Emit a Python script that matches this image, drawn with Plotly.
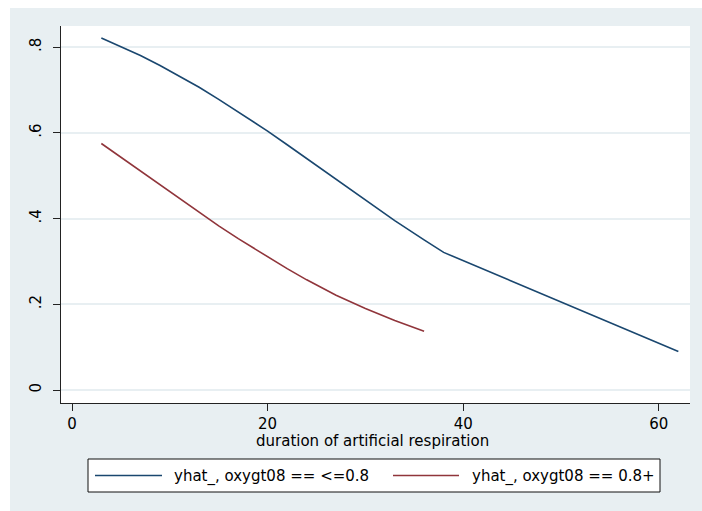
import plotly.graph_objects as go

# ---- data ----
dur_low = [3, 5, 7, 9, 11, 13, 15, 17, 20, 22, 24, 27, 30, 33, 36, 38, 62]
yhat_low = [0.821, 0.801, 0.780, 0.757, 0.732, 0.706, 0.678, 0.649, 0.604,
            0.572, 0.540, 0.491, 0.443, 0.395, 0.350, 0.321, 0.090]
dur_high = [3, 5, 7, 9, 11, 13, 15, 17, 20, 22, 24, 27, 30, 33, 36]
yhat_high = [0.575, 0.543, 0.511, 0.478, 0.446, 0.414, 0.383, 0.353, 0.310,
             0.283, 0.257, 0.221, 0.190, 0.162, 0.137]
series_names = ["yhat_, oxygt08 == <=0.8", "yhat_, oxygt08 == 0.8+"]
series_colors = ["#1a476f", "#90353b"]
y_ticks = [0, 0.2, 0.4, 0.6, 0.8]
y_ticktext = ["0", ".2", ".4", ".6", ".8"]
x_ticks = [0, 20, 40, 60]
x_title = "duration of artificial respiration"

# ---- layout geometry (pixels) ----
W, H = 702, 511
L, R, T, B = 61, 12, 26, 108
PW, PH = W - L - R, H - T - B
BG = "#e8eff2"
FONT = "DejaVu Sans"


def fx(px):
    return (px - L) / PW


def fy(py):
    return (H - B - py) / PH


fig = go.Figure()
for xs, ys, name, col in [(dur_low, yhat_low, series_names[0], series_colors[0]),
                          (dur_high, yhat_high, series_names[1], series_colors[1])]:
    fig.add_trace(go.Scatter(x=xs, y=ys, mode="lines", name=name,
                             line=dict(color=col, width=1.6), showlegend=False))

shapes = [
    # white strips outside the graph region (top and left)
    dict(type="rect", xref="paper", yref="paper", x0=fx(0), x1=fx(W), y0=fy(8), y1=fy(0),
         fillcolor="white", line=dict(width=0), layer="below"),
    dict(type="rect", xref="paper", yref="paper", x0=fx(0), x1=fx(10), y0=fy(H), y1=fy(0),
         fillcolor="white", line=dict(width=0), layer="below"),
    # legend box
    dict(type="rect", xref="paper", yref="paper", x0=fx(88), x1=fx(660), y0=fy(492), y1=fy(459),
         fillcolor="white", line=dict(color="#111111", width=1), layer="above"),
]
annotations = [
    dict(text=x_title, xref="paper", yref="paper", x=fx(372), y=fy(441),
         xanchor="center", yanchor="middle", showarrow=False,
         font=dict(family=FONT, size=15, color="black")),
]
leg_lines = [(95, 162), (393, 459)]
leg_text_x = [172, 470]
for i in range(2):
    shapes.append(dict(type="line", xref="paper", yref="paper",
                       x0=fx(leg_lines[i][0]), x1=fx(leg_lines[i][1]),
                       y0=fy(475.5), y1=fy(475.5),
                       line=dict(color=series_colors[i], width=1.6), layer="above"))
    annotations.append(dict(text=series_names[i], xref="paper", yref="paper",
                            x=fx(leg_text_x[i]), y=fy(476), xanchor="left", yanchor="middle",
                            showarrow=False, font=dict(family=FONT, size=15, color="black")))

fig.update_layout(
    width=W, height=H,
    margin=dict(l=L, r=R, t=T, b=B, pad=0),
    paper_bgcolor=BG, plot_bgcolor="white",
    font=dict(family=FONT, size=15, color="black"),
    shapes=shapes, annotations=annotations, showlegend=False,
    xaxis=dict(range=[-1.125, 63.19], tickvals=x_ticks, showgrid=False, zeroline=False,
               showline=True, linecolor="#222222", linewidth=1,
               ticks="outside", ticklen=7, tickcolor="#222222", tickwidth=1,
               tickfont=dict(family=FONT, size=15, color="black")),
    yaxis=dict(range=[-0.0303, 0.849], tickvals=y_ticks, ticktext=y_ticktext,
               tickangle=-90, showgrid=True, gridcolor=BG, gridwidth=1.5,
               zeroline=False, showline=True, linecolor="#222222", linewidth=1,
               ticks="outside", ticklen=7, tickcolor="#222222", tickwidth=1,
               ticklabelstandoff=6,
               tickfont=dict(family=FONT, size=15, color="black")),
)

fig.write_html("out.html")
